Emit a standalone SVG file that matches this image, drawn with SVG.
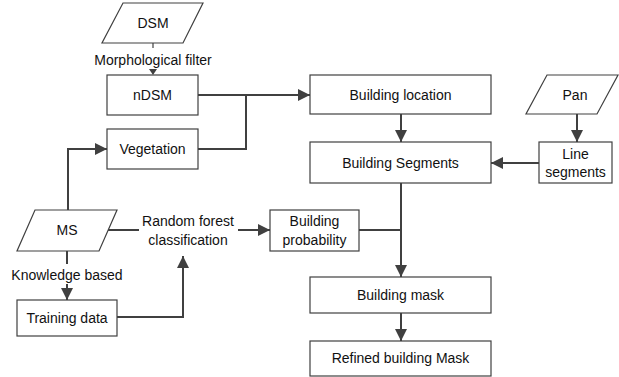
<svg xmlns="http://www.w3.org/2000/svg" width="619" height="377" viewBox="0 0 619 377">
<style>
.b{fill:#fff;stroke:#404040;stroke-width:1.2}
.t{font-family:"Liberation Sans",Arial,sans-serif;font-size:14px;fill:#111;text-anchor:middle}
.c{fill:none;stroke:#404040;stroke-width:2}
</style>
<defs>
<marker id="a" markerUnits="userSpaceOnUse" markerWidth="12" markerHeight="12" viewBox="0 0 12 12" refX="12" refY="6" orient="auto">
<path d="M0,0 L12,6 L0,12 Z" fill="#404040"/>
</marker>
</defs>
<rect width="619" height="377" fill="#fff"/>
<g id="connectors">
<path class="c" style="stroke-width:1.2" d="M153,43 V48"/>
<path d="M149,69 L157,69 L153,75 Z" fill="#404040"/>
<path class="c" d="M198,95 H310" marker-end="url(#a)"/>
<path class="c" d="M198,149 H246 V95"/>
<path class="c" d="M401,114 V142" marker-end="url(#a)"/>
<path class="c" d="M577,114 V142" marker-end="url(#a)"/>
<path class="c" d="M539,163 H491" marker-end="url(#a)"/>
<path class="c" d="M401,183 V277" marker-end="url(#a)"/>
<path class="c" d="M359,230 H401"/>
<path class="c" d="M401,313 V341" marker-end="url(#a)"/>
<path class="c" d="M68,210 V149 H107" marker-end="url(#a)"/>
<path class="c" d="M108,230 H139"/>
<path class="c" d="M238,230 H270" marker-end="url(#a)"/>
<path class="c" d="M67,251 V264"/>
<path class="c" d="M67,284 V300" marker-end="url(#a)"/>
<path class="c" d="M117,317 H183 V256" marker-end="url(#a)"/>
</g>
<g id="dsm"><path class="b" d="M123,3 H203 L183,43 H102 Z"/><text class="t" x="153" y="28">DSM</text></g>
<g id="morph"><text class="t" x="153" y="65">Morphological filter</text></g>
<g id="ndsm"><rect class="b" x="107" y="75" width="91" height="40"/><text class="t" x="152.5" y="100">nDSM</text></g>
<g id="vegetation"><rect class="b" x="107" y="129" width="91" height="40"/><text class="t" x="152.5" y="154">Vegetation</text></g>
<g id="buildingLocation"><rect class="b" x="310" y="75" width="181" height="39"/><text class="t" x="400.5" y="100">Building location</text></g>
<g id="pan"><path class="b" d="M547,75 H618 L597,114 H526 Z"/><text class="t" x="575" y="100">Pan</text></g>
<g id="buildingSegments"><rect class="b" x="310" y="142" width="181" height="41"/><text class="t" x="400.5" y="168">Building Segments</text></g>
<g id="lineSegments"><rect class="b" x="539" y="142" width="73" height="41"/><text class="t" x="575.5" y="159">Line</text><text class="t" x="575.5" y="177">segments</text></g>
<g id="ms"><path class="b" d="M35,210 H117 L99,251 H17 Z"/><text class="t" x="67" y="235">MS</text></g>
<g id="rf"><text class="t" x="188" y="226">Random forest</text><text class="t" x="188" y="245">classification</text></g>
<g id="buildingProbability"><rect class="b" x="270" y="210" width="89" height="41"/><text class="t" x="314.5" y="226">Building</text><text class="t" x="314.5" y="245">probability</text></g>
<g id="knowledge"><text class="t" x="67" y="280">Knowledge based</text></g>
<g id="trainingData"><rect class="b" x="17" y="300" width="100" height="36"/><text class="t" x="67" y="323">Training data</text></g>
<g id="buildingMask"><rect class="b" x="310" y="277" width="181" height="36"/><text class="t" x="400.5" y="300">Building mask</text></g>
<g id="refined"><rect class="b" x="310" y="341" width="181" height="35"/><text class="t" x="400.5" y="363">Refined building Mask</text></g>
</svg>
